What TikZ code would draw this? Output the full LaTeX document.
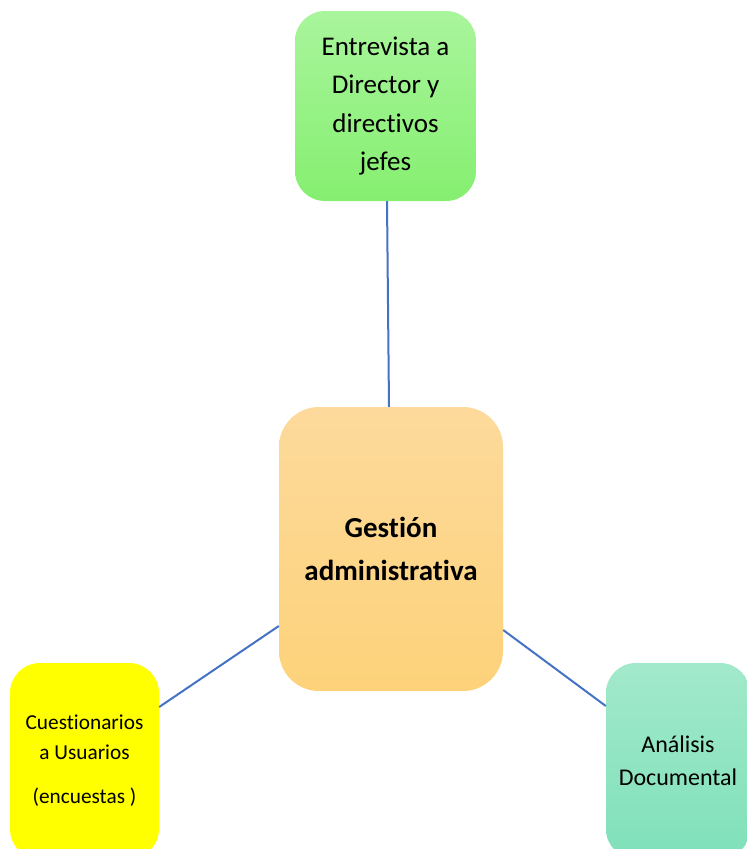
\documentclass[tikz,border=0pt]{standalone}
\usepackage{fontspec}
\setmainfont{Carlito}[Ligatures=NoCommon]
\definecolor{linkblue}{HTML}{4472C4}
\definecolor{gtop}{HTML}{A9F59C}
\definecolor{gbot}{HTML}{85EF70}
\definecolor{otop}{HTML}{FDDA9C}
\definecolor{obot}{HTML}{FDD27A}
\definecolor{mtop}{HTML}{A2E9CB}
\definecolor{mbot}{HTML}{7FE0B9}
\definecolor{yel}{HTML}{FFFF00}
\tikzset{
  box/.style={rounded corners=30pt, align=center, inner sep=0pt, text=black},
  link/.style={draw=linkblue, line width=2pt},
}
\begin{document}
\begin{tikzpicture}[x=1pt,y=-1pt]
\clip (0,0) rectangle (747,849);
\fill[white] (0,0) rectangle (747,849);
\node[box, top color=gtop, bottom color=gbot, minimum width=181pt, minimum height=190pt,
  font={\fontsize{27}{38.5}\selectfont}] (T) at (385.5,106) {Entrevista a\\Director y\\directivos\\jefes};
\node[box, rounded corners=40pt, top color=otop, bottom color=obot, minimum width=224pt, minimum height=284pt,
  font={\fontsize{29}{43}\selectfont\bfseries}] (C) at (391,549) {Gestión\\administrativa};
\node[box, fill=yel, minimum width=149pt, minimum height=196pt,
  font={\fontsize{21.3}{30}\selectfont}] (L) at (84.5,761) {Cuestionarios\\a Usuarios\\[14pt](encuestas )};
\node[box, top color=mtop, bottom color=mbot, minimum width=144pt, minimum height=196pt,
  font={\fontsize{24}{33}\selectfont}] (R) at (678,761) {Análisis\\Documental};
\draw[link] ([xshift=1.5pt]T.south) -- ([xshift=-2pt]C.north);
\draw[link] ([yshift=54pt]L.east) -- ([yshift=-77pt]C.west);
\draw[link] ([yshift=-81pt]C.east) -- ([yshift=55pt]R.west);
\end{tikzpicture}
\end{document}
